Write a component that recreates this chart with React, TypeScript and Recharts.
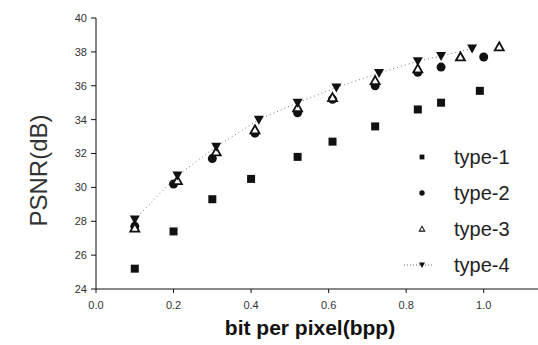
import { Legend, Scatter, ScatterChart, XAxis, YAxis } from "recharts";

const type1X = [0.1, 0.2, 0.3, 0.4, 0.52, 0.61, 0.72, 0.83, 0.89, 0.99];
const type1Y = [25.2, 27.4, 29.3, 30.5, 31.8, 32.7, 33.6, 34.6, 35.0, 35.7];

const type2X = [0.1, 0.2, 0.3, 0.41, 0.52, 0.61, 0.72, 0.83, 0.89, 1.0];
const type2Y = [27.7, 30.2, 31.7, 33.2, 34.4, 35.2, 36.0, 36.8, 37.1, 37.7];

const type3X = [0.1, 0.21, 0.31, 0.41, 0.52, 0.61, 0.72, 0.83, 0.94, 1.04];
const type3Y = [27.6, 30.4, 32.1, 33.4, 34.7, 35.3, 36.3, 37.0, 37.7, 38.3];

const type4X = [0.1, 0.21, 0.31, 0.42, 0.52, 0.62, 0.73, 0.83, 0.89, 0.97];
const type4Y = [28.1, 30.7, 32.4, 34.0, 35.0, 35.9, 36.75, 37.45, 37.75, 38.2];

const xTicks = [0, 0.2, 0.4, 0.6, 0.8, 1.0];
const yTicks = [24, 26, 28, 30, 32, 34, 36, 38, 40];
const seriesNames = ["type-1", "type-2", "type-3", "type-4"];

const pts = (xs: number[], ys: number[]) => xs.map((x, i) => ({ x, y: ys[i] }));

const FONT = "'Liberation Sans', Arial, sans-serif";
const INK = "#111";

const Square = ({ cx, cy }: any) => <rect x={cx - 4} y={cy - 4} width={8} height={8} fill={INK} />;
const Dot = ({ cx, cy }: any) => <circle cx={cx} cy={cy} r={4.5} fill={INK} />;
const TriUp = ({ cx, cy }: any) => (
  <path
    d={`M${cx},${cy - 4.5} L${cx + 4.5},${cy + 3.5} L${cx - 4.5},${cy + 3.5} Z`}
    fill="#fff"
    stroke={INK}
    strokeWidth={1.8}
  />
);
const TriDown = ({ cx, cy }: any) => (
  <path d={`M${cx - 5},${cy - 4} L${cx + 5},${cy - 4} L${cx},${cy + 5} Z`} fill={INK} />
);

const markers = [Square, Dot, TriUp, TriDown];

const renderLegend = () => (
  <svg width={130} height={145}>
    {seriesNames.map((name, i) => {
      const Mark = markers[i];
      const cy = 17 + i * 36;
      return (
        <g key={name}>
          {i === 3 && (
            <line x1={4} x2={32} y1={cy} y2={cy} stroke="#666" strokeDasharray="1 2" />
          )}
          <g transform={`translate(22 ${cy}) scale(0.6) translate(-22 ${-cy})`}>
            <Mark cx={22} cy={cy} />
          </g>
          <text x={54} y={cy} dy="0.36em" fontSize={20} fontFamily={FONT} fill="#222">
            {name}
          </text>
        </g>
      );
    })}
  </svg>
);

export default function App() {
  return (
    <div style={{ position: "absolute", left: 0, top: 0, background: "#fff" }}>
      <ScatterChart width={538} height={345} margin={{ top: 18, right: 0, bottom: 0, left: 0 }}>
        <XAxis
          type="number"
          dataKey="x"
          domain={[0, 1.14]}
          ticks={xTicks}
          tickFormatter={(v: number) => v.toFixed(1)}
          height={56}
          tickSize={4}
          tickMargin={8}
          stroke={INK}
          tick={{ fill: "#333", fontSize: 11, fontFamily: FONT }}
          label={{
            value: "bit per pixel(bpp)",
            position: "center",
            dx: -7,
            dy: 11,
            fill: "#111",
            fontSize: 21,
            fontWeight: "bold",
            fontFamily: FONT,
          }}
        />
        <YAxis
          type="number"
          dataKey="y"
          domain={[24, 40]}
          ticks={yTicks}
          width={96}
          tickSize={5}
          tickMargin={4}
          stroke={INK}
          tick={{ fill: "#333", fontSize: 11, fontFamily: FONT }}
          label={{
            value: "PSNR(dB)",
            position: "center",
            angle: -90,
            dx: -10,
            dy: 17,
            fill: "#333",
            fontSize: 24,
            fontFamily: FONT,
          }}
        />
        <Legend
          layout="horizontal"
          verticalAlign="middle"
          align="center"
          content={renderLegend}
          wrapperStyle={{ left: 400, top: 140, width: 130, height: 145 }}
        />
        <Scatter name="type-1" data={pts(type1X, type1Y)} shape={Square} isAnimationActive={false} />
        <Scatter name="type-2" data={pts(type2X, type2Y)} shape={Dot} isAnimationActive={false} />
        <Scatter name="type-3" data={pts(type3X, type3Y)} shape={TriUp} isAnimationActive={false} />
        <Scatter
          name="type-4"
          data={pts(type4X, type4Y)}
          shape={TriDown}
          line={{ stroke: "#777", strokeDasharray: "1 3", strokeWidth: 1 }}
          isAnimationActive={false}
        />
      </ScatterChart>
    </div>
  );
}
